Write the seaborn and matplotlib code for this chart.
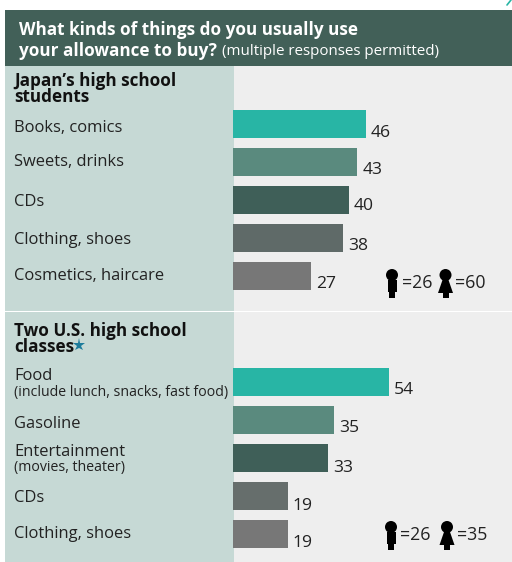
import matplotlib
matplotlib.use("Agg")
import matplotlib.pyplot as plt
from matplotlib.patches import Rectangle, Circle, Polygon
import pandas as pd
import seaborn as sns

sns.set_theme(style="white")
plt.rcParams["font.family"] = ["Open Sans", "DejaVu Sans"]

japan_items = ["Books, comics", "Sweets, drinks", "CDs", "Clothing, shoes", "Cosmetics, haircare"]
japan_values = [46, 43, 40, 38, 27]
us_items = ["Food", "Gasoline", "Entertainment", "CDs", "Clothing, shoes"]
us_values = [54, 35, 33, 19, 19]
us_notes = ["(include lunch, snacks, fast food)", None, "(movies, theater)", None, None]
bar_colors = ["#28B5A5", "#5A8A7E", "#3F5F58", "#5F6A68", "#777777"]
us_bar_colors = ["#28B5A5", "#5A8A7E", "#3F5F58", "#666E6C", "#777777"]

W, H = 512, 562
TEXT = "#222222"
fig = plt.figure(figsize=(W / 100, H / 100), dpi=100, facecolor="white")

# Page-level layer measured in pixels, y running downwards
bg = fig.add_axes([0, 0, 1, 1], zorder=0)
bg.set_xlim(0, W)
bg.set_ylim(H, 0)
bg.axis("off")
bg.add_patch(Rectangle((5, 66), 507, 496, color="#EEEEEE", lw=0))
bg.add_patch(Rectangle((5, 66), 229, 496, color="#C6D9D5", lw=0))
bg.add_patch(Rectangle((5, 10), 507, 56, color="#426058", lw=0))
bg.add_patch(Rectangle((5, 311), 507, 1.3, color="white", lw=0))
bg.plot([507, 511], [5, 0], color="#28B5A5", lw=1.2)

bg.text(19, 30, "What kinds of things do you usually use", color="white",
        fontsize=12.3, fontweight="bold", va="center")
bg.text(19, 51, "your allowance to buy?", color="white",
        fontsize=12.3, fontweight="bold", va="center")
bg.text(222, 51.5, "(multiple responses permitted)", color="white",
        fontsize=10.9, va="center")

bg.text(14, 89, "Japan\u2019s high school\nstudents", color="#111111", fontsize=12.3,
        fontweight="bold", va="center", linespacing=0.82)
bg.text(14, 339, "Two U.S. high school\nclasses", color="#111111", fontsize=12.3,
        fontweight="bold", va="center", linespacing=0.82)
bg.plot([78.5], [344.5], marker="*", ms=9.5, color="#1C7C9C", mew=0, ls="none")


def figure_out_axes(top, bottom):
    """Axes for one bar group: the baseline sits at x=233 px."""
    ax = fig.add_axes([233 / W, 1 - bottom / H, (W - 233) / W, (bottom - top) / H], zorder=1)
    ax.patch.set_alpha(0)
    return ax


def draw_group(ax, items, values, colors, label_y, value_dy):
    frame = pd.DataFrame({"item": range(len(items)), "share": values})
    sns.barplot(data=frame, y="item", x="share", hue="item", palette=colors, orient="h",
                order=list(range(len(items))), width=0.74, legend=False, saturation=1,
                linewidth=0, edgecolor="none", ax=ax)
    ax.set_xlim(0, (W - 233) / 2.89)
    ax.set_ylim(len(items) - 0.5, -0.5)
    ax.axis("off")
    for i, value in enumerate(values):
        ax.annotate(str(value), (value, i), xytext=(3.6, -value_dy[i] * 0.72),
                    textcoords="offset points", fontsize=12.6, color=TEXT,
                    va="center", ha="left")
    for name, y in zip(items, label_y):
        bg.text(14, y, name, fontsize=11.9, color=TEXT, va="center")


japan_ax = figure_out_axes(105, 295)
draw_group(japan_ax, japan_items, japan_values, bar_colors,
           [128.5, 162.5, 201.5, 239.5, 275.5], [9, 8, 6, 8, 8])

us_ax = figure_out_axes(363.5, 552.5)
draw_group(us_ax, us_items, us_values, us_bar_colors,
           [376.5, 423.5, 452, 498.5, 534.5], [8, 8, 10, 10, 9])
bg.text(14, 392.5, us_notes[0], fontsize=10.2, color=TEXT, va="center")
bg.text(14, 468, us_notes[2], fontsize=10.2, color=TEXT, va="center")


def boy(x, y):
    bg.add_patch(Circle((x, y + 6), 6, color="black", lw=0))
    bg.add_patch(Rectangle((x - 4.5, y + 11), 9, 12, color="black", lw=0))
    bg.add_patch(Rectangle((x - 3, y + 22), 6, 7, color="black", lw=0))


def girl(x, y):
    bg.add_patch(Circle((x, y + 6), 6, color="black", lw=0))
    bg.add_patch(Polygon([(x - 3, y + 11), (x + 3, y + 11), (x + 7.5, y + 24), (x - 7.5, y + 24)],
                         color="black", lw=0))
    bg.add_patch(Rectangle((x - 3, y + 23), 6, 6, color="black", lw=0))


boy(392, 269)
bg.text(402, 283, "=26", fontsize=12.8, color=TEXT, va="center")
girl(445.5, 269)
bg.text(455, 283, "=60", fontsize=12.8, color=TEXT, va="center")
boy(391, 521)
bg.text(400, 535, "=26", fontsize=12.8, color=TEXT, va="center")
girl(447, 521)
bg.text(457, 535, "=35", fontsize=12.8, color=TEXT, va="center")

fig.savefig("out.png", dpi=100)
